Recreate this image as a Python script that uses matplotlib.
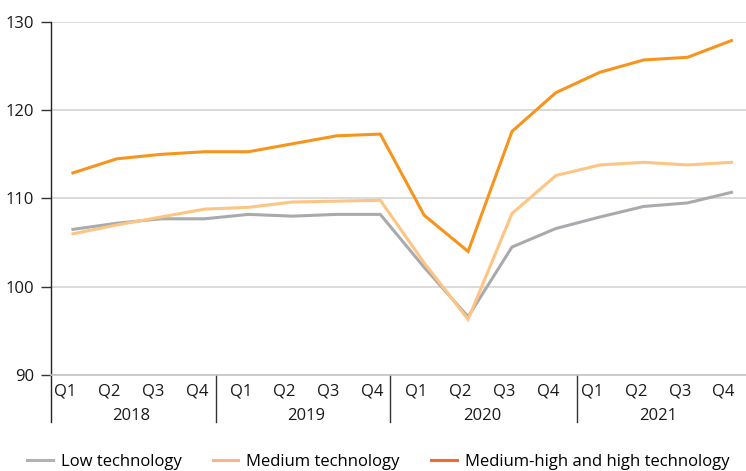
import numpy as np
import matplotlib.pyplot as plt
from matplotlib.lines import Line2D

plt.rcParams['font.family'] = ['Open Sans', 'DejaVu Sans']

years = ['2018', '2019', '2020', '2021']
quarters = ['Q1', 'Q2', 'Q3', 'Q4']

low_tech = [106.5, 107.2, 107.7, 107.7, 108.2, 108.0, 108.2, 108.2,
            102.2, 96.6, 104.5, 106.6, 107.9, 109.1, 109.5, 110.7]
medium_tech = [106.0, 107.0, 107.9, 108.8, 109.0, 109.6, 109.7, 109.8,
               102.7, 96.3, 108.3, 112.6, 113.8, 114.1, 113.8, 114.1]
high_tech = [112.9, 114.5, 115.0, 115.3, 115.3, 116.2, 117.1, 117.3,
             108.1, 104.0, 117.6, 122.0, 124.3, 125.7, 126.0, 127.9]

series_names = ['Low technology', 'Medium technology', 'Medium-high and high technology']
line_colors = ['#a8aaad', '#fdc583', '#f7941d']
legend_colors = ['#b0b3b6', '#fbb48a', '#f26d2a']

fs = 12

fig = plt.figure(figsize=(7.46, 4.71), dpi=100)
ax = fig.add_axes([51 / 746, 1 - 375 / 471, 1 - 51 / 746, (375 - 22) / 471])

x = np.arange(len(low_tech))
for vals, col in zip([low_tech, medium_tech, high_tech], line_colors):
    ax.plot(x, vals, color=col, lw=2.2, solid_joinstyle='miter', zorder=3)

ax.set_xlim(-0.5, 15.33)
ax.set_ylim(90, 130)
ax.set_yticks([90, 100, 110, 120, 130])
ax.yaxis.grid(True, color='#d4d4d4', lw=1.2)
ax.set_axisbelow(True)
ax.tick_params(axis='y', length=7, width=1, color='#333333', labelsize=fs,
               labelcolor='#1a1a1a', pad=5)
ax.tick_params(axis='x', length=0, labelbottom=False)

for s in ['top', 'right']:
    ax.spines[s].set_visible(False)
ax.spines['left'].set_visible(False)
ax.spines['bottom'].set_color('#c4c4c4')
ax.spines['bottom'].set_linewidth(1.2)

# left axis line runs down through the category labels
ax.axvline(-0.5, ymin=-0.133, ymax=1, color='#222222', lw=1, clip_on=False)

# year separators
for sep in [3.26, 7.22, 11.48]:
    ax.axvline(sep, ymin=-0.133, ymax=0, color='#333333', lw=1, clip_on=False)

trans = ax.get_xaxis_transform()
for i in range(len(low_tech)):
    ax.text(i - 0.18, -0.047, quarters[i % 4], transform=trans, ha='center',
            va='center', fontsize=fs, color='#1a1a1a')
for j, yr in enumerate(years):
    ax.text(4 * j + 1.5 - 0.18, -0.117, yr, transform=trans, ha='center',
            va='center', fontsize=fs, color='#1a1a1a')

handles = [Line2D([], [], color=c, lw=2.2) for c in legend_colors]
fig.legend(handles, series_names, loc='center left', bbox_to_anchor=(27 / 746, 1 - 462 / 471),
           ncol=3, frameon=False, fontsize=fs, handlelength=1.55, handletextpad=0.48,
           columnspacing=1.85, borderpad=0, borderaxespad=0)

fig.savefig('out.png', dpi=100)
